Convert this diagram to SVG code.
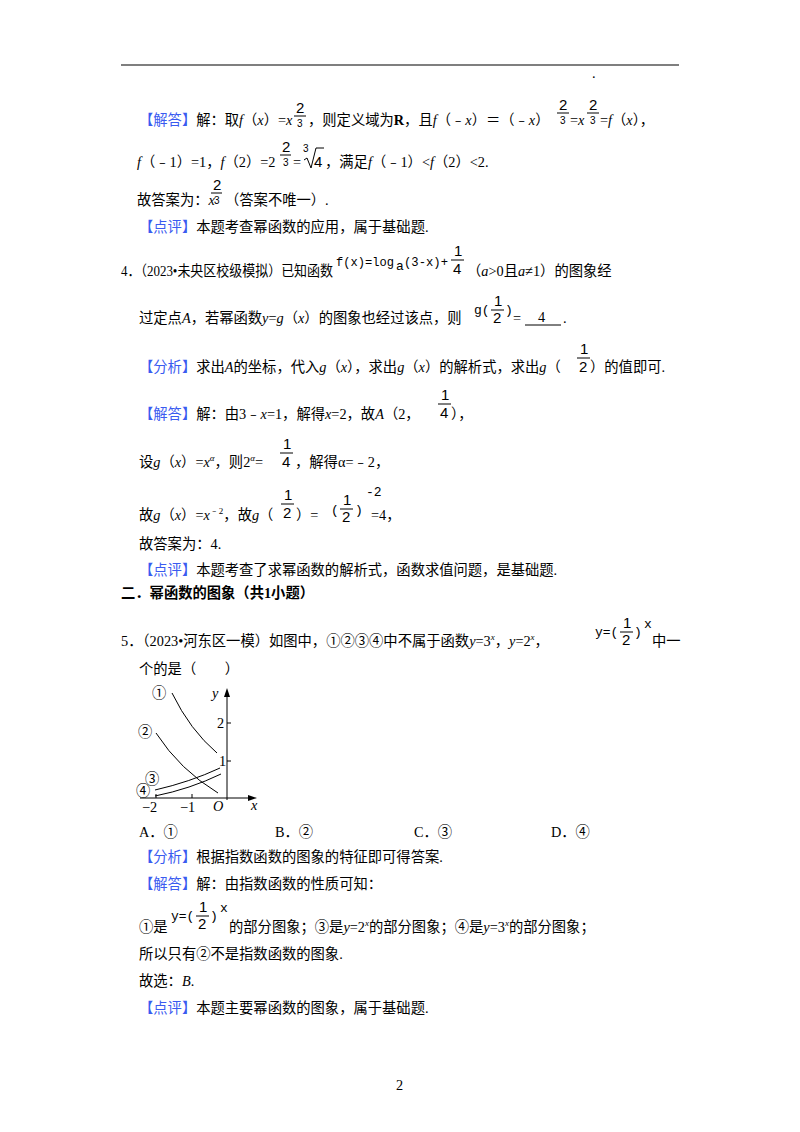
<svg xmlns="http://www.w3.org/2000/svg" width="800" height="1132" viewBox="0 0 800 1132">
<style>
text{font-family:"Liberation Serif","Noto Sans CJK SC",serif;font-size:14.3px;fill:#000}
.b{fill:#3a5bf0}
.i{font-style:italic}
.m{font-family:"Liberation Mono","Noto Sans CJK SC",monospace;font-size:13px}
.s{font-size:15px;font-family:"Liberation Sans",sans-serif}
.f{font-size:10px;font-family:"Liberation Sans",sans-serif}
.ln{stroke:#000;fill:none;stroke-width:1}
</style>
<rect width="800" height="1132" fill="#fff"/>
<line x1="121" y1="65" x2="679" y2="65" stroke="#000" stroke-width="1.2"/>
<text x="592" y="78" font-size="6">.</text>

<text x="139" y="125"><tspan class="b">【解答】</tspan>解：取<tspan class="i">f</tspan>（<tspan class="i">x</tspan>）=<tspan class="i">x</tspan></text>
<text x="296" y="113" class="s">2</text><line x1="294" y1="116" x2="306" y2="116" class="ln"/><text x="297" y="127" class="f">3</text>
<text x="308" y="125">，则定义域为<tspan font-weight="bold">R</tspan>，且<tspan class="i">f</tspan>（﹣<tspan class="i">x</tspan>）＝（﹣<tspan class="i">x</tspan>）</text>
<text x="559" y="110" class="s">2</text><line x1="557" y1="113" x2="569" y2="113" class="ln"/><text x="560" y="124" class="f">3</text>
<text x="570" y="125">=<tspan class="i">x</tspan></text>
<text x="589" y="110" class="s">2</text><line x1="587" y1="113" x2="599" y2="113" class="ln"/><text x="590" y="124" class="f">3</text>
<text x="600" y="125">=<tspan class="i">f</tspan>（<tspan class="i">x</tspan>），</text>

<text x="137" y="167"><tspan class="i">f</tspan>（﹣1）=1，<tspan class="i">f</tspan>（2）=2</text>
<text x="282" y="152" class="s">2</text><line x1="280" y1="155" x2="291" y2="155" class="ln"/><text x="283" y="166" class="f">3</text>
<text x="293" y="167">=</text>
<text x="303" y="152" class="f">3</text><path d="M304,160 l3,-2 l4,10 l5,-20 h8" class="ln"/><text x="314" y="167" class="s">4</text>
<text x="325" y="167">，满足<tspan class="i">f</tspan>（﹣1）&lt;<tspan class="i">f</tspan>（2）&lt;2.</text>

<text x="137" y="205">故答案为：<tspan class="i">x</tspan></text>
<text x="213" y="190" class="s">2</text><line x1="211" y1="193" x2="222" y2="193" class="ln"/><text x="214" y="204" class="f">3</text>
<text x="225" y="205">（答案不唯一）.</text>
<text x="139" y="232"><tspan class="b">【点评】</tspan>本题考查幂函数的应用，属于基础题.</text>

<text x="121" y="276" textLength="212" lengthAdjust="spacingAndGlyphs">4．（2023•未央区校级模拟）已知函数</text>
<text x="336" y="266" class="m" textLength="58" lengthAdjust="spacingAndGlyphs">f(x)=log</text><text x="396" y="270" class="m" font-size="9">a</text><text x="404" y="266" class="m" textLength="44" lengthAdjust="spacingAndGlyphs">(3-x)+</text>
<text x="454" y="256" class="s">1</text><line x1="451" y1="260" x2="464" y2="260" class="ln"/><text x="453" y="274" class="s">4</text>
<text x="467" y="276">（<tspan class="i">a</tspan>&gt;0且<tspan class="i">a</tspan>≠1）的图象经</text>

<text x="139" y="323">过定点<tspan class="i">A</tspan>，若幂函数<tspan class="i">y</tspan>=<tspan class="i">g</tspan>（<tspan class="i">x</tspan>）的图象也经过该点，则</text>
<text x="474" y="314" class="m">g(</text><text x="494" y="306" class="s">1</text><line x1="491" y1="310" x2="504" y2="310" class="ln"/><text x="493" y="323" class="s">2</text><text x="505" y="314" class="m">)</text>
<text x="513" y="323">=</text><text x="538" y="322">4</text><line x1="525" y1="325" x2="561" y2="325" class="ln"/><text x="563" y="323">.</text>

<text x="139" y="372"><tspan class="b">【分析】</tspan>求出<tspan class="i">A</tspan>的坐标，代入<tspan class="i">g</tspan>（<tspan class="i">x</tspan>），求出<tspan class="i">g</tspan>（<tspan class="i">x</tspan>）的解析式，求出<tspan class="i">g</tspan>（</text>
<text x="580" y="354" class="s">1</text><line x1="577" y1="358" x2="590" y2="358" class="ln"/><text x="579" y="372" class="s">2</text>
<text x="590" y="372">）的值即可.</text>

<text x="139" y="419"><tspan class="b">【解答】</tspan>解：由3﹣<tspan class="i">x</tspan>=1，解得<tspan class="i">x</tspan>=2，故<tspan class="i">A</tspan>（2，</text>
<text x="441" y="400" class="s">1</text><line x1="438" y1="404" x2="451" y2="404" class="ln"/><text x="440" y="418" class="s">4</text>
<text x="451" y="419">），</text>

<text x="139" y="467">设<tspan class="i">g</tspan>（<tspan class="i">x</tspan>）=<tspan class="i">x</tspan><tspan font-size="9" dy="-6" class="i">α</tspan><tspan dy="6">，则2</tspan><tspan font-size="9" dy="-6" class="i">α</tspan><tspan dy="6">=</tspan></text>
<text x="283" y="449" class="s">1</text><line x1="280" y1="453" x2="293" y2="453" class="ln"/><text x="282" y="467" class="s">4</text>
<text x="295" y="467">，解得α=﹣2，</text>

<text x="139" y="520">故<tspan class="i">g</tspan>（<tspan class="i">x</tspan>）=<tspan class="i">x</tspan><tspan font-size="9" dy="-6">﹣2</tspan><tspan dy="6">，故</tspan><tspan class="i">g</tspan>（</text>
<text x="284" y="500" class="s">1</text><line x1="281" y1="504" x2="294" y2="504" class="ln"/><text x="283" y="518" class="s">2</text>
<text x="296" y="520">）=</text>
<text x="331" y="514" class="m">(</text><text x="343" y="505" class="s">1</text><line x1="340" y1="509" x2="353" y2="509" class="ln"/><text x="342" y="522" class="s">2</text><text x="355" y="514" class="m">)</text>
<text x="366" y="496" class="m">-2</text>
<text x="371" y="520">=4，</text>

<text x="139" y="549">故答案为：4.</text>
<text x="139" y="575"><tspan class="b">【点评】</tspan>本题考查了求幂函数的解析式，函数求值问题，是基础题.</text>
<text x="121" y="598" font-weight="bold">二．幂函数的图象（共1小题）</text>

<text x="121" y="646">5．（2023•河东区一模）如图中，①②③④中不属于函数<tspan class="i">y</tspan>=3<tspan font-size="9" dy="-6" class="i">x</tspan><tspan dy="6">，</tspan><tspan class="i">y</tspan>=2<tspan font-size="9" dy="-6" class="i">x</tspan><tspan dy="6">，</tspan></text>
<text x="595" y="636" class="m">y=(</text><text x="623" y="628" class="s">1</text><line x1="620" y1="632" x2="633" y2="632" class="ln"/><text x="622" y="645" class="s">2</text><text x="634" y="636" class="m">)</text><text x="644" y="628" class="m">x</text>
<text x="652" y="646">中一</text>
<text x="139" y="674">个的是（　　）</text>

<g id="graph">
<line x1="227" y1="800" x2="227" y2="692" class="ln"/><path d="M224,697 L227,688 L230,697 Z"/>
<line x1="140" y1="798" x2="252" y2="798" class="ln"/><path d="M248,795 L257,798 L248,801 Z"/>
<line x1="227" y1="723" x2="231" y2="723" class="ln"/><line x1="227" y1="761" x2="231" y2="761" class="ln"/>
<line x1="192" y1="798" x2="192" y2="794" class="ln"/><line x1="156" y1="798" x2="156" y2="794" class="ln"/>
<text x="212" y="698" class="i">y</text><text x="217" y="728">2</text><text x="219" y="766">1</text>
<text x="251" y="810" class="i">x</text><text x="213" y="811" class="i">O</text>
<text x="142" y="812">−2</text><text x="180" y="812">−1</text>
<path d="M172,693 Q190,730 217,753" class="ln"/>
<path d="M156,733 Q180,770 218,793" class="ln"/>
<path d="M155,790 Q190,782 220,768" class="ln"/>
<path d="M155,796 Q190,789 221,774" class="ln"/>
<text x="152" y="698">①</text><text x="138" y="737">②</text><text x="145" y="784">③</text><text x="136" y="796">④</text>
</g>

<text x="139" y="837">A．①</text><text x="275" y="837">B．②</text><text x="414" y="837">C．③</text><text x="551" y="837">D．④</text>
<text x="139" y="862"><tspan class="b">【分析】</tspan>根据指数函数的图象的特征即可得答案.</text>
<text x="139" y="889"><tspan class="b">【解答】</tspan>解：由指数函数的性质可知：</text>
<text x="139" y="932">①是</text>
<text x="171" y="920" class="m">y=(</text><text x="199" y="912" class="s">1</text><line x1="196" y1="916" x2="209" y2="916" class="ln"/><text x="198" y="929" class="s">2</text><text x="210" y="920" class="m">)</text><text x="220" y="912" class="m">x</text>
<text x="229" y="932">的部分图象；③是<tspan class="i">y</tspan>=2<tspan font-size="9" dy="-6" class="i">x</tspan><tspan dy="6">的部分图象；④是</tspan><tspan class="i">y</tspan>=3<tspan font-size="9" dy="-6" class="i">x</tspan><tspan dy="6">的部分图象；</tspan></text>
<text x="139" y="959">所以只有②不是指数函数的图象.</text>
<text x="139" y="986">故选：<tspan class="i">B</tspan>.</text>
<text x="139" y="1013"><tspan class="b">【点评】</tspan>本题主要幂函数的图象，属于基础题.</text>
<text x="396" y="1090" font-size="11">2</text>
</svg>
